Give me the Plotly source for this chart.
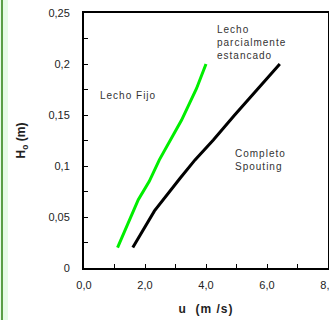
import plotly.graph_objects as go

# Lecho Fijo (green)
fijo_u = [1.1, 1.78, 2.14, 2.47, 3.2, 3.69, 4.0]
fijo_h = [0.02, 0.067, 0.085, 0.106, 0.145, 0.176, 0.2]
# Spouting boundary (black)
spout_u = [1.6, 2.31, 3.15, 3.64, 4.24, 4.94, 6.42]
spout_h = [0.02, 0.056, 0.088, 0.106, 0.1255, 0.15, 0.2]

x_tickvals = [0, 2, 4, 6, 8]
x_ticktext = ["0,0", "2,0", "4,0", "6,0", "8,0"]
y_tickvals = [0, 0.05, 0.1, 0.15, 0.2, 0.25]
y_ticktext = ["0", "0,05", "0,1", "0,15", "0,2", "0,25"]

fig = go.Figure()
fig.add_trace(go.Scatter(x=fijo_u, y=fijo_h, mode="lines",
                         line=dict(color="#00ee00", width=3), showlegend=False))
fig.add_trace(go.Scatter(x=spout_u, y=spout_h, mode="lines",
                         line=dict(color="#000000", width=3), showlegend=False))

font_lbl = dict(family="Arial, Liberation Sans", size=10, color="#333")
fig.add_annotation(x=0.63, y=0.169, text="Lecho Fijo", showarrow=False,
                   xanchor="left", yanchor="middle", font=font_lbl)
fig.add_annotation(x=4.3, y=0.2206, text="Lecho<br>parcialmente<br>estancado", showarrow=False,
                   xanchor="left", yanchor="middle", align="left", font=font_lbl)
fig.add_annotation(x=4.9, y=0.106, text="Completo<br>Spouting", showarrow=False,
                   xanchor="left", yanchor="middle", align="left", font=font_lbl)

axfont = dict(family="Arial, Liberation Sans", size=11, color="#222")
fig.update_xaxes(range=[0, 8], tickvals=x_tickvals, ticktext=x_ticktext,
                 ticks="inside", ticklen=4, tickwidth=1, tickcolor="#000",
                 minor=dict(ticks="inside", dtick=1, ticklen=4, tickcolor="#000"),
                 showline=True, linecolor="#000", linewidth=2, mirror=True,
                 showgrid=False, zeroline=False, tickfont=axfont, ticklabelstandoff=6,
                 ticklabeloverflow="allow",
                 title=dict(text="<b>u  (m /s)</b>", font=dict(family="Arial, Liberation Sans", size=12, color="#222"), standoff=14),
                 automargin=False)
fig.update_yaxes(range=[0, 0.25], tickvals=y_tickvals, ticktext=y_ticktext,
                 ticks="inside", ticklen=4, tickwidth=1, tickcolor="#000",
                 minor=dict(ticks="inside", dtick=0.025, ticklen=4, tickcolor="#000"),
                 showline=True, linecolor="#000", linewidth=2, mirror=True,
                 showgrid=False, zeroline=False, tickfont=axfont, ticklabelstandoff=10,
                 ticklabeloverflow="allow",
                 title=dict(text="<b>H<sub>o</sub> (m)</b>", font=dict(family="Arial, Liberation Sans", size=12, color="#222"), standoff=20),
                 automargin=False)

fig.update_layout(width=329, height=320, margin=dict(l=84, r=1, t=13, b=52),
                  paper_bgcolor="white", plot_bgcolor="white", showlegend=False)

fig.add_shape(type="rect", xref="paper", yref="paper", x0=-84/244, x1=-76/244, y0=-52/255, y1=1 + 13/255,
              line=dict(width=0), fillcolor="#e6fbe6", layer="below")
fig.add_shape(type="rect", xref="paper", yref="paper", x0=-83/244, x1=-81/244, y0=-52/255, y1=1 + 13/255,
              line=dict(width=0), fillcolor="#5a9e46", layer="below")

post = (
    "document.body.style.margin='0px';document.body.style.overflow='hidden';"
    "document.querySelectorAll('.annotation-text').forEach(function(e){e.style.letterSpacing='1px';});"
    "document.querySelectorAll('.xtitle').forEach(function(e){e.style.letterSpacing='1px';});"
)
fig.write_html("out.html", post_script=post, config={"displayModeBar": False})
